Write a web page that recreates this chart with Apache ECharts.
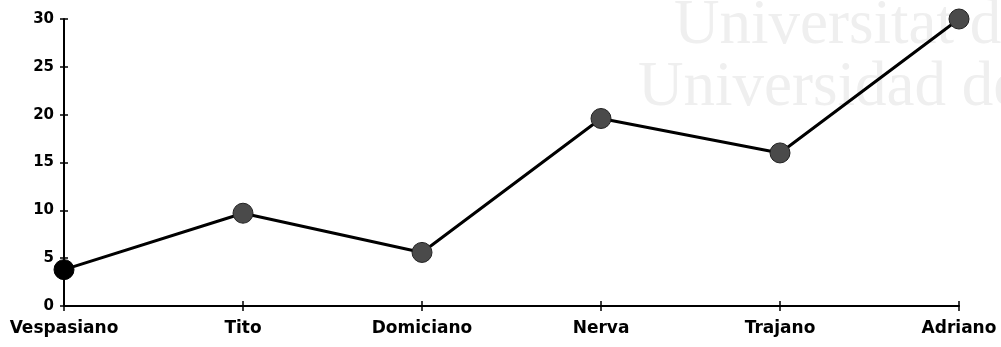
<!DOCTYPE html>
<html>
<head>
<meta charset="utf-8">
<script src="https://cdn.jsdelivr.net/npm/echarts@6/dist/echarts.min.js"></script>
<style>
html,body{margin:0;padding:0;background:#fff;}
#chart{width:1001px;height:347px;}
</style>
</head>
<body>
<div id="chart"></div>
<script>
const categories = ['Vespasiano', 'Tito', 'Domiciano', 'Nerva', 'Trajano', 'Adriano'];
const values = [3.8, 9.7, 5.6, 19.6, 16.0, 30.0];
const yMin = 0, yMax = 30, yStep = 5;

const chart = echarts.init(document.getElementById('chart'), null, {renderer: 'canvas'});

const seriesData = values.map((v, i) => i === 0
  ? {value: v, itemStyle: {color: '#000', borderColor: '#000'}}
  : v);

const gridBox = {left: 64, right: 42, top: 19, bottom: 41};
const tickStyle = {color: '#000', width: 1.5};

chart.setOption({
  animation: false,
  backgroundColor: '#fff',
  graphic: [
    {type: 'text', left: 674, top: -5, z: -10, silent: true,
     style: {text: 'Universitat de', fill: '#efefef', fontSize: 63, fontFamily: '"Liberation Serif", serif'}},
    {type: 'text', left: 638, top: 57, z: -10, silent: true,
     style: {text: 'Universidad de', fill: '#efefef', fontSize: 63, fontFamily: '"Liberation Serif", serif'}}
  ],
  grid: [Object.assign({}, gridBox), Object.assign({}, gridBox)],
  xAxis: [
    {
      gridIndex: 0, type: 'category', data: categories, boundaryGap: false,
      axisLine: {lineStyle: {color: '#000', width: 2}},
      axisTick: {show: true, alignWithLabel: true, interval: 0, length: 5, lineStyle: tickStyle},
      axisLabel: {interval: 0, margin: 14, color: '#000', fontFamily: '"DejaVu Sans", sans-serif', fontWeight: 'bold', fontSize: 17}
    },
    {
      gridIndex: 1, type: 'category', data: categories, boundaryGap: false,
      axisLine: {show: false},
      axisTick: {show: true, inside: true, alignWithLabel: true, interval: 0, length: 5, lineStyle: tickStyle},
      axisLabel: {show: false}
    }
  ],
  yAxis: [
    {
      gridIndex: 0, type: 'value', min: yMin, max: yMax, interval: yStep,
      splitLine: {show: false},
      axisLine: {show: true, lineStyle: {color: '#000', width: 2}},
      axisTick: {show: true, length: 4, lineStyle: tickStyle},
      axisLabel: {margin: 10, color: '#000', fontFamily: '"DejaVu Sans", sans-serif', fontWeight: 'bold', fontSize: 15}
    },
    {
      gridIndex: 1, type: 'value', min: yMin, max: yMax, interval: yStep,
      splitLine: {show: false},
      axisLine: {show: false},
      axisTick: {show: true, inside: true, length: 4, lineStyle: tickStyle},
      axisLabel: {show: false}
    }
  ],
  series: [{
    type: 'line',
    xAxisIndex: 0, yAxisIndex: 0,
    data: seriesData,
    symbol: 'circle',
    symbolSize: 20,
    lineStyle: {color: '#000', width: 3},
    itemStyle: {color: '#4a4a4a', borderColor: '#222', borderWidth: 1},
    z: 5
  }]
});
</script>
</body>
</html>
